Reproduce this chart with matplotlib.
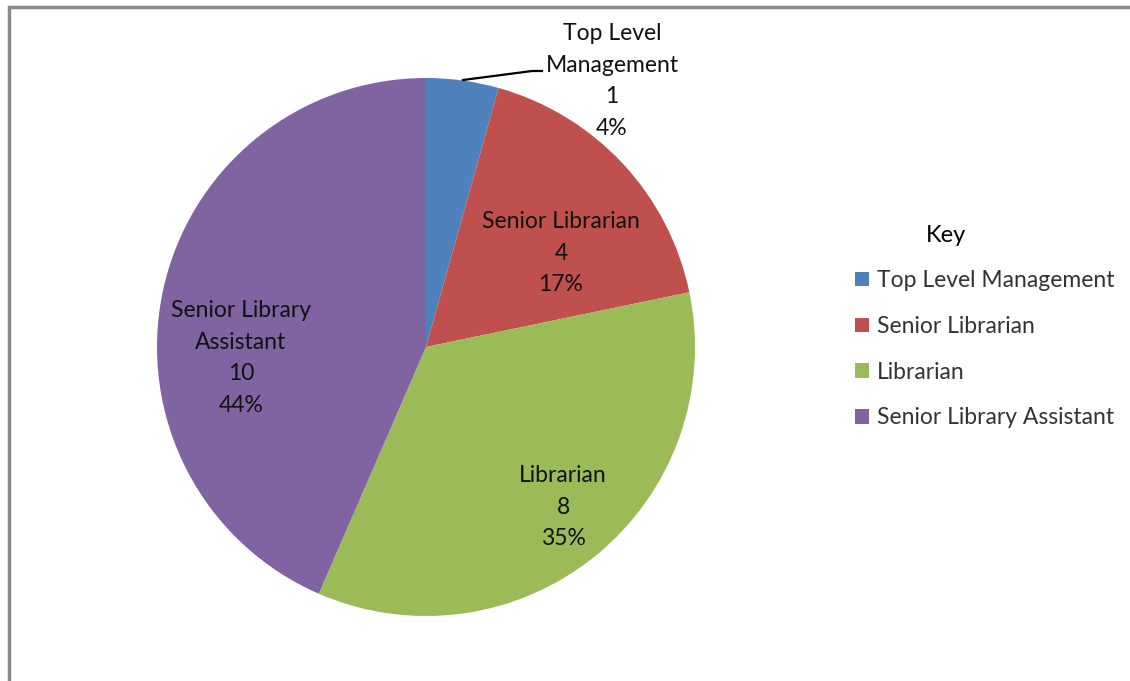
import matplotlib.pyplot as plt
from matplotlib.patches import Rectangle

# staff grades and head counts
categories = ['Top Level Management', 'Senior Librarian', 'Librarian', 'Senior Library Assistant']
counts = [1, 4, 8, 10]
percents = [4, 17, 35, 44]
colors = ['#4F81BD', '#C0504D', '#9BBB59', '#8064A2']

# label text split over lines, and where each label sits (pixel coords, y down)
labelNames = ['Top Level\nManagement', 'Senior Librarian', 'Librarian', 'Senior Library\nAssistant']
labelPos = [(612, 81), (561, 253), (563, 507), (241, 358)]

W, H = 1130, 681
centre = (426, 347)
radius = 269

plt.rcParams['font.family'] = ['Lato', 'DejaVu Sans']

fig = plt.figure(figsize=(W/100, H/100), dpi=100)
fig.patch.set_facecolor('w')
ax = fig.add_axes([0, 0, 1, 1])

wedges, _ = ax.pie(counts, colors=colors, startangle=90, counterclock=False,
                   center=(centre[0], H - centre[1]), radius=radius, frame=True)
ax.set_xlim(0, W)
ax.set_ylim(0, H)
ax.axis('off')

for name, n, p, (x, y) in zip(labelNames, counts, percents, labelPos):
    ax.text(x, H - y, f'{name}\n{n}\n{p}%', ha='center', va='center',
            fontsize=16.5, color='#111111', linespacing=1.62)

# leader line for the thin top slice
ax.plot([463, 532, 542], [H - 80, H - 71, H - 71], color='k', lw=1.6)

# outer chart border (only top and left visible)
ax.add_patch(Rectangle((9, -20), W + 50, H - 7 + 20, fill=False,
                       edgecolor='#8a8a8a', lw=2.5, clip_on=False))

ax.text(946, H - 235, 'Key', ha='center', va='center', fontsize=17, color='black')

leg = ax.legend(wedges, categories, loc='upper left',
                bbox_to_anchor=(846 / W, 1 - 261 / H), frameon=False,
                fontsize=16.5, handlelength=0.6, handleheight=0.6,
                handletextpad=0.35, labelspacing=1.08, borderaxespad=0)
for t in leg.get_texts():
    t.set_color('#333333')

fig.savefig('out.png', dpi=100, facecolor='w')
